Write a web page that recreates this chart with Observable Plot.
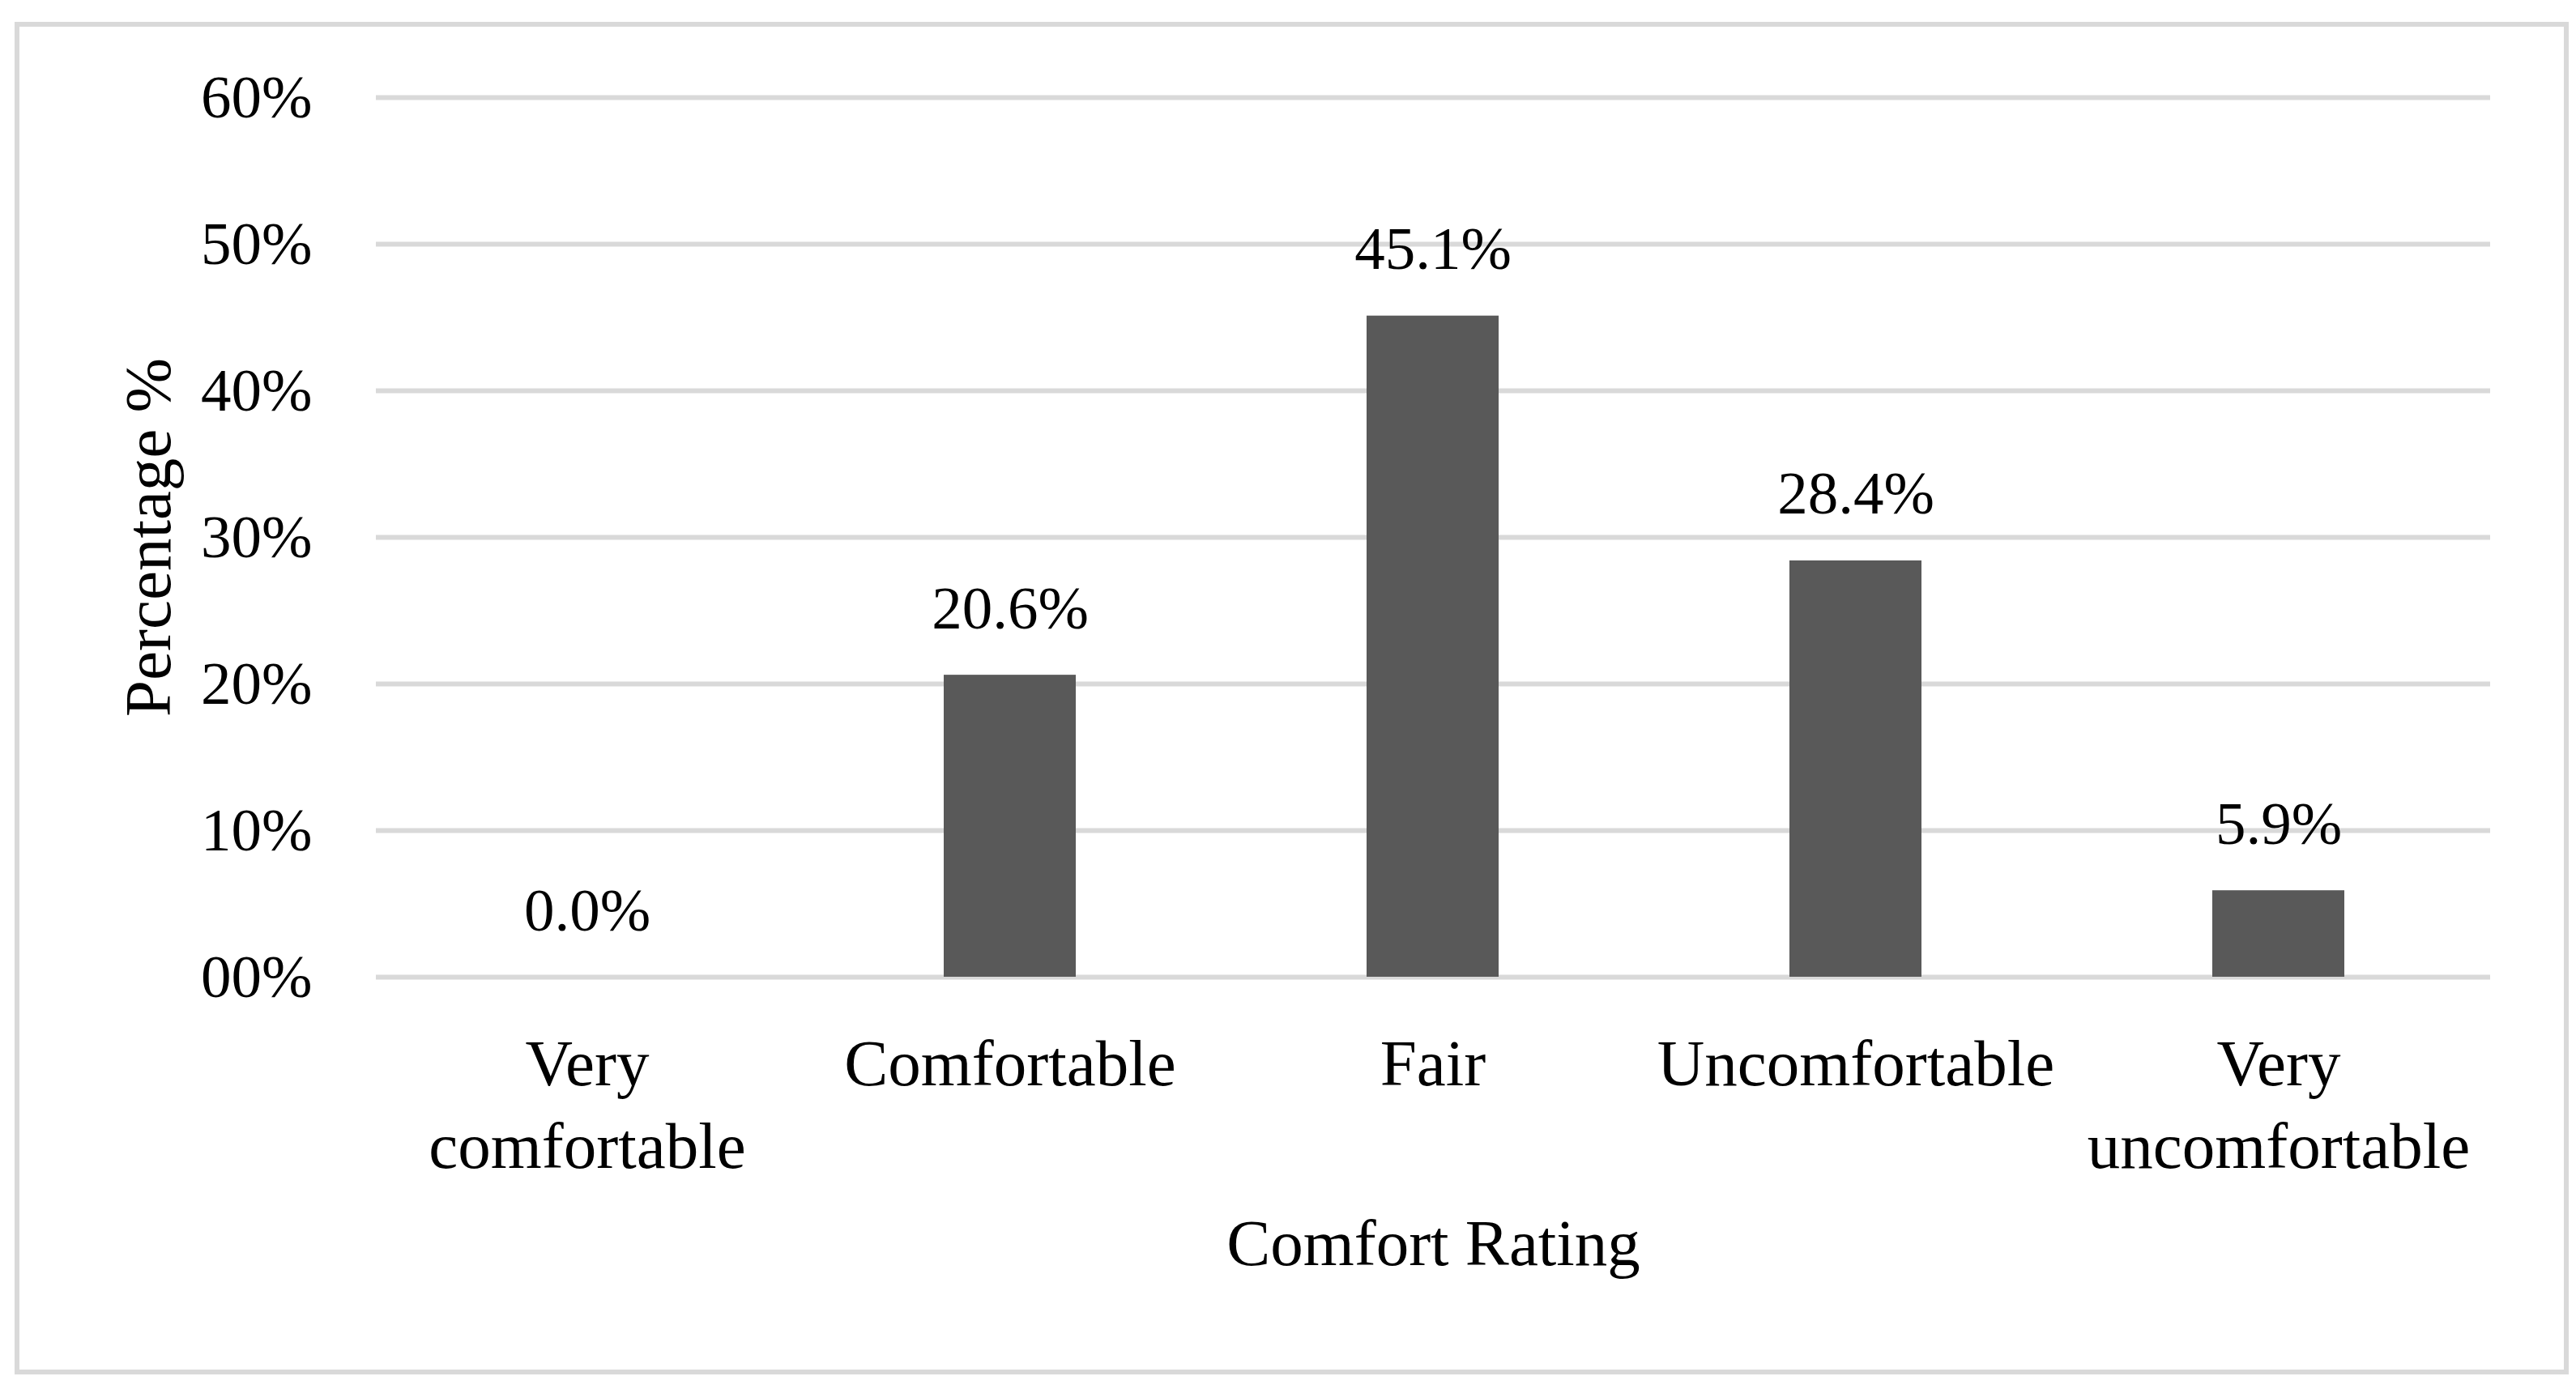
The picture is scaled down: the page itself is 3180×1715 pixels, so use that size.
<!DOCTYPE html>
<html>
<head>
<meta charset="utf-8">
<script src="https://cdn.jsdelivr.net/npm/d3@7"></script>
<script src="https://cdn.jsdelivr.net/npm/@observablehq/plot@0.6"></script>
<style>
  html, body { margin: 0; padding: 0; background: #fff; }
  #wrap { position: relative; width: 3180px; height: 1715px; }
  #frame { position: absolute; left: 18px; top: 27px; width: 3141px; height: 1658px; border: 6px solid #d9d9d9; box-sizing: content-box; }
  #chart { position: absolute; left: 0; top: 0; }
</style>
</head>
<body>
<div id="wrap"><div id="frame"></div><div id="chart"></div></div>
<script>
const categories = ["Very comfortable", "Comfortable", "Fair", "Uncomfortable", "Very uncomfortable"];
const categoryLabels = ["Very\ncomfortable", "Comfortable", "Fair", "Uncomfortable", "Very\nuncomfortable"];
const values = [0.0, 20.6, 45.1, 28.4, 5.9];
const yTicks = [0, 10, 20, 30, 40, 50, 60];
const yTickLabels = ["00%", "10%", "20%", "30%", "40%", "50%", "60%"];

const data = categories.map((c, i) => ({category: c, value: values[i]}));
const font = "'Palatino Linotype', 'Book Antiqua', Palatino, 'Liberation Serif', serif";

const chart = Plot.plot({
  width: 3180,
  height: 1715,
  marginLeft: 464,
  marginRight: 106,
  marginTop: 120,
  marginBottom: 509,
  style: {fontFamily: font, fontSize: "75px", color: "#000", background: "transparent"},
  x: {domain: categories, paddingInner: 0.687, paddingOuter: 0.3435},
  y: {domain: [0, 60]},
  marks: [
    Plot.gridY(yTicks, {stroke: "#d9d9d9", strokeWidth: 6, strokeOpacity: 1}),
    Plot.barY(data, {x: "category", y: "value", fill: "#595959"}),
    Plot.text(data, {x: "category", y: "value", text: d => d.value.toFixed(1) + "%", dy: -82, fontSize: 75, fill: "#000"}),
    Plot.axisY({ticks: yTicks, tickFormat: (d) => yTickLabels[yTicks.indexOf(d)], tickSize: 0, tickPadding: 79, fontSize: 75,
      label: null}),
    Plot.axisY({ticks: [], tickSize: 0, fontSize: 81,
      label: "Percentage %", labelAnchor: "center", labelArrow: "none", labelOffset: 312}),
    Plot.axisX({tickFormat: (d) => categoryLabels[categories.indexOf(d)], tickSize: 0, tickPadding: 62, fontSize: 81, lineHeight: 1.25,
      label: "Comfort Rating", labelAnchor: "center", labelArrow: "none", labelOffset: 355})
  ]
});
document.getElementById("chart").appendChild(chart);
</script>
</body>
</html>
